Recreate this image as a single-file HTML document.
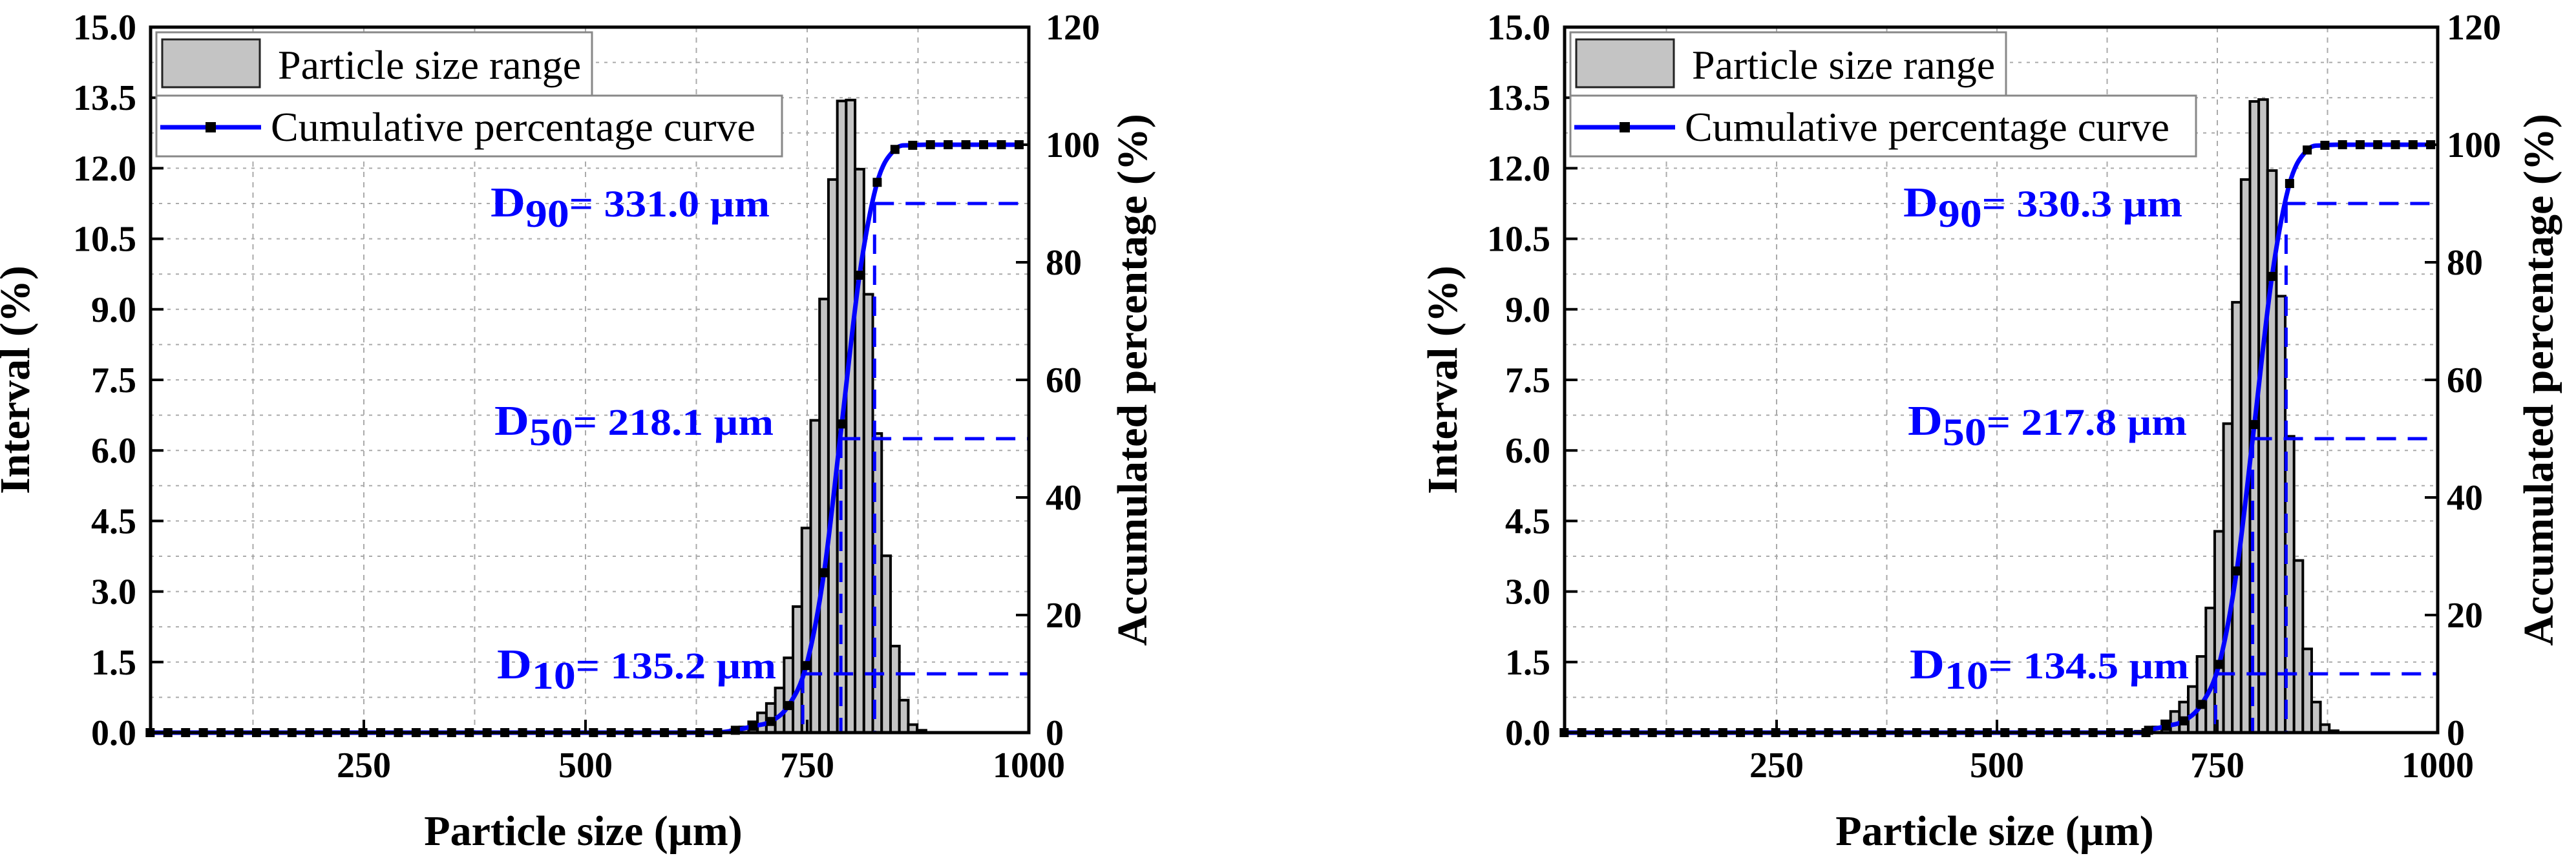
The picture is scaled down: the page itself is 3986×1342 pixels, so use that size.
<!DOCTYPE html>
<html><head><meta charset="utf-8">
<style>
html,body{margin:0;padding:0;background:#fff;}
svg{display:block;}
text{font-family:"Liberation Serif",serif;}
</style></head>
<body>
<svg id="fig" width="3986" height="1342" viewBox="0 0 3986 1342" xmlns="http://www.w3.org/2000/svg"></svg>
<script>
// ---- data: chart A (left) ----
const binCentersA = [659,669,679,689,699,709,719,729,739,749,759,769,779,789,799,809,819,829,839,849,859,869,879];
const intervalA   = [0.03,0.06,0.12,0.23,0.42,0.62,0.95,1.59,2.68,4.35,6.64,9.22,11.76,13.43,13.45,11.98,9.32,6.36,3.76,1.84,0.69,0.17,0.05];
const cumXA = [669,689,709,729,749,769,789,809,829,849,869,889];
const cumYA = [0.4,1.1,1.9,4.6,11.4,27.2,52.5,77.8,93.6,99.2,99.9,100];
const dLevelsA = [10,50,90];
const dXA = [745,788,826];
const dLabelsA = ["135.2","218.1","331.0"];
// ---- data: chart B (right) ----
const binCentersB = [662,672,682,692,702,712,722,732,742,752,762,772,782,792,802,812,822,832,842,852,862,872,882];
const intervalB   = [0.03,0.06,0.12,0.25,0.45,0.65,0.98,1.62,2.65,4.28,6.57,9.15,11.76,13.42,13.46,11.95,9.28,6.30,3.66,1.78,0.65,0.17,0.04];
const cumXB = [672,692,712,732,752,772,792,812,832,852,872,892];
const cumYB = [0.4,1.1,2.0,4.8,11.6,27.5,52.4,77.6,93.4,99.1,99.9,100];
const dXB = [748,790,828];
const dLabelsB = ["134.5","217.8","330.3"];
// shared tick labels
const xTicks = [250,500,750,1000];
const yLeftTicks = [0,1.5,3,4.5,6,7.5,9,10.5,12,13.5,15];
const yRightTicks = [0,20,40,60,80,100,120];

const NS="http://www.w3.org/2000/svg";
const svg=document.getElementById('fig');
function mk(tag,attrs,parent){const e=document.createElementNS(NS,tag);for(const k in attrs)e.setAttribute(k,attrs[k]);(parent||svg).appendChild(e);return e;}

function drawChart(cfg){
  const g=mk('g',{});
  
  
  const L=cfg.L,R=cfg.R,T=42,B=1134,xmin=9.5,xmax=1000;
  const sx=v=>L+(v-xmin)/(xmax-xmin)*(R-L);
  const sy=v=>B-v/15*(B-T);
  const sy2=v=>B-v/120*(B-T);
  const grid=mk('g',{},g);
  
  
  for(let v=0.75;v<15;v+=0.75){mk('line',{x1:L,x2:R,y1:sy(v),y2:sy(v),stroke:'#aaa','stroke-width':2,'stroke-dasharray':'5,8'},grid);}
  for(let v=125;v<1000;v+=125){mk('line',{x1:sx(v),x2:sx(v),y1:T,y2:B,stroke:'#aaa','stroke-width':2,'stroke-dasharray':'8,8'},grid);}
  const bw=(sx(10)-sx(0));
  cfg.bins.forEach((c,i)=>{
    const r=mk('rect',{x:sx(c)-bw/2,y:sy(cfg.vals[i]),width:bw,height:B-sy(cfg.vals[i]),fill:'#c4c4c4',stroke:'#000','stroke-width':4},g);
    
    
  });
  cfg.dX.forEach((x,i)=>{
    const lv=dLevelsA[i];
    const l1=mk('line',{x1:sx(x),x2:R,y1:sy2(lv),y2:sy2(lv),stroke:'#0000ff','stroke-width':5,'stroke-dasharray':'30,18'},g);
    
    
    const l2=mk('line',{x1:sx(x),x2:sx(x),y1:sy2(lv),y2:B,stroke:'#0000ff','stroke-width':5,'stroke-dasharray':'30,18'},g);
    
    
  });
  const px=[],py=[];
  for(let x=9;x<cfg.cumX[0];x+=20){px.push(x);py.push(0);}
  cfg.cumX.forEach((x,i)=>{px.push(x);py.push(cfg.cumY[i]);});
  for(let x=cfg.cumX[cfg.cumX.length-1]+20;x<=1000;x+=20){px.push(x);py.push(100);}
  const P=px.map((x,i)=>[sx(x),sy2(py[i])]);
  let d='M'+P[0][0]+','+P[0][1];
  for(let i=0;i<P.length-1;i++){
    const p0=P[Math.max(0,i-1)],p1=P[i],p2=P[i+1],p3=P[Math.min(P.length-1,i+2)];
    const c1=[p1[0]+(p2[0]-p0[0])/6,p1[1]+(p2[1]-p0[1])/6];
    const c2=[p2[0]-(p3[0]-p1[0])/6,p2[1]-(p3[1]-p1[1])/6];
    d+=` C${c1[0]},${c1[1]} ${c2[0]},${c2[1]} ${p2[0]},${p2[1]}`;
  }
  const curve=mk('path',{d:d,fill:'none',stroke:'#0000ff','stroke-width':7},g);
  
  
  P.forEach(p=>{
    const m=mk('rect',{x:p[0]-7,y:p[1]-7,width:14,height:14,fill:'#000'},g);
    
    
  });
  const fr=mk('rect',{x:L,y:T,width:R-L,height:B-T,fill:'none',stroke:'#000','stroke-width':5},g);
  
  
  yLeftTicks.forEach(v=>{
    mk('line',{x1:L,x2:L+20,y1:sy(v),y2:sy(v),stroke:'#000','stroke-width':4},g);
    const t=mk('text',{x:L-22,y:sy(v)+19,'text-anchor':'end','font-size':56,'font-weight':'bold'},g);
    t.textContent=v.toFixed(1);
    
    
  });
  yRightTicks.forEach(v=>{
    mk('line',{x1:R,x2:R-20,y1:sy2(v),y2:sy2(v),stroke:'#000','stroke-width':4},g);
    const t=mk('text',{x:R+cfg.rGap,y:sy2(v)+19,'font-size':56,'font-weight':'bold'},g);
    t.textContent=v;
    
    
  });
  xTicks.forEach(v=>{
    mk('line',{x1:sx(v),x2:sx(v),y1:B,y2:B-20,stroke:'#000','stroke-width':4},g);
    const t=mk('text',{x:sx(v),y:1203,'text-anchor':'middle','font-size':56,'font-weight':'bold'},g);
    t.textContent=v;
    
    
  });
  const xt=mk('text',{x:(L+R)/2-10,y:1308,'text-anchor':'middle','font-size':66,'font-weight':'bold'},g);
  xt.textContent='Particle size (µm)';
  
  
  const yt=mk('text',{x:0,y:0,'text-anchor':'middle','font-size':66,'font-weight':'bold',transform:`translate(${cfg.ylx},588) rotate(-90)`},g);
  yt.textContent='Interval (%)';
  
  
  const yr=mk('text',{x:0,y:0,'text-anchor':'middle','font-size':66,'font-weight':'bold',transform:`translate(${cfg.yrx},588) rotate(-90)`},g);
  yr.textContent='Accumulated percentage (%)';
  
  
  const dy=[1050,673,335];
  cfg.dLabels.forEach((s,i)=>{
    const t=mk('text',{x:cfg.dTx[i],y:dy[i],'font-size':58,'font-weight':'bold',fill:'#0000ff',textLength:432,lengthAdjust:'spacingAndGlyphs'},g);
    
    
    const a=mk('tspan',{'font-size':66},t);a.textContent='D';
    const b=mk('tspan',{dy:16,'font-size':60},t);b.textContent=String(dLevelsA[i]);
    const c=mk('tspan',{dy:-16},t);c.textContent='= '+s+' µm';
  });
  const lg=mk('g',{},g);
  
  
  const o=L+9;
  mk('rect',{x:o,y:50,width:674,height:98,fill:'#fff',stroke:'#888','stroke-width':3},lg);
  mk('rect',{x:o+9,y:61,width:151,height:74,fill:'#c4c4c4',stroke:'#222','stroke-width':3},lg);
  const l1=mk('text',{x:o+188,y:122,'font-size':64},lg);l1.textContent='Particle size range';
  
  
  mk('rect',{x:o,y:148,width:968,height:94,fill:'#fff',stroke:'#888','stroke-width':3},lg);
  mk('line',{x1:o+6,x2:o+162,y1:197,y2:197,stroke:'#0000ff','stroke-width':7},lg);
  mk('rect',{x:o+76,y:189,width:16,height:16,fill:'#000'},lg);
  const l2=mk('text',{x:o+177,y:218,'font-size':64},lg);l2.textContent='Cumulative percentage curve';
  
  
}
drawChart({name:'chart-left',L:233,R:1592,bins:binCentersA,vals:intervalA,cumX:cumXA,cumY:cumYA,dX:dXA,dLabels:dLabelsA,dTx:[769,765,759],rGap:26,ylx:45,yrx:1774});
drawChart({name:'chart-right',L:2421,R:3772,bins:binCentersB,vals:intervalB,cumX:cumXB,cumY:cumYB,dX:dXB,dLabels:dLabelsB,dTx:[2955,2952,2945],rGap:14,ylx:2254,yrx:3950});
</script>
</body></html>
